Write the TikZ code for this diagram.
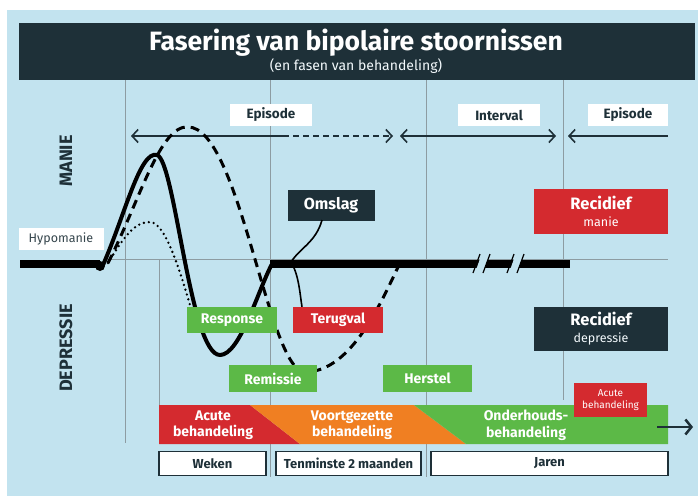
\documentclass[tikz,border=0pt]{standalone}
\usepackage{fontspec}
\setmainfont{Fira Sans}
\usetikzlibrary{arrows.meta}
\definecolor{bgblue}{HTML}{C2E3EF}
\definecolor{mdark}{HTML}{1E3038}
\definecolor{mred}{HTML}{D42A2F}
\definecolor{mgreen}{HTML}{5CB947}
\definecolor{morange}{HTML}{F07F22}
\definecolor{gridgrey}{HTML}{8D9CA2}
\tikzset{
  eplabel/.style={fill=white, text=mdark, font=\bfseries\fontsize{13.5}{14}\selectfont,
    minimum width=82pt, minimum height=22pt, inner sep=0pt},
  greenlabel/.style={fill=mgreen, text=white, font=\bfseries\fontsize{14}{15}\selectfont,
    minimum width=90pt, minimum height=26pt, inner sep=0pt},
  redlabel/.style={greenlabel, fill=mred},
  darklabel/.style={fill=mdark, text=white, inner sep=0pt, align=center},
  duration/.style={draw=mdark, line width=1.8pt, fill=white, text=mdark,
    font=\bfseries\fontsize{13}{14}\selectfont, minimum height=24pt, inner sep=0pt},
  barfont/.style={text=white, font=\bfseries\fontsize{14}{16.5}\selectfont, align=center},
  span/.style={mdark, line width=1.6pt, -{Straight Barb[length=6pt,width=13pt]}},
  grid/.style={gridgrey, line width=0.8pt}
}
\begin{document}
\begin{tikzpicture}[x=1pt, y=-1pt]
        \useasboundingbox (0,0) rectangle (698,496);
        % background and title bar
        \fill[white] (0,0) rectangle (698,496);
        \fill[bgblue] (7,10) rectangle (698,496);
        \fill[mdark] (19,23) rectangle (695,80);
        \node[text=white, font=\bfseries\fontsize{26.5}{28}\selectfont] (title) at (356,43) {Fasering van bipolaire stoornissen};
        \node[text=white!80!bgblue, font=\fontsize{14}{15}\selectfont] (subtitle) at (356,66) {(en fasen van behandeling)};

        % the vertical grid lines and the zero line
        \draw[grid] (125,80) -- (125,443);
        \draw[grid] (270,80) -- (270,477);
        \draw[grid] (426,80) -- (426,477);
        \draw[grid] (563,80) -- (563,400);
        \draw[grid] (159,259) -- (159,405);
        \draw[grid] (105,259) -- (668,259);

        % axis labels
        \node[rotate=90, text=mdark, font=\bfseries\fontsize{18}{20}\selectfont] (manie) at (66,161) {MANIE};
        \node[rotate=90, text=mdark, font=\bfseries\fontsize{18}{20}\selectfont] (depressie) at (66,348) {DEPRESSIE};

        % the episode / interval labels and spans
        \node[eplabel] (episode-a) at (271,115) {Episode};
        \node[eplabel] (interval) at (499,115) {Interval};
        \node[eplabel, minimum width=80pt] (episode-b) at (628,115) {Episode};
        \coordinate (span-a) at (131,136);
        \coordinate (span-b) at (283,136);
        \coordinate (span-c) at (393,136);
        \coordinate (span-d) at (400,136);
        \coordinate (span-e) at (556,136);
        \coordinate (span-f) at (568,136);
        \coordinate (span-g) at (668,136);
        \draw[span] (span-b) -- (span-a);
        \draw[span, dash pattern=on 6pt off 4pt] (span-b) -- (span-c);
        \draw[span, {Straight Barb[length=6pt,width=13pt]}-{Straight Barb[length=6pt,width=13pt]}] (span-d) -- (span-e);
        \draw[span] (span-g) -- (span-f);

        % the course lines
        \draw[black, line width=8pt] (20,264) -- (100,264);
        \fill[black] (100,266) circle (5pt);
        \draw[black, line width=3pt, dash pattern=on 9pt off 6pt]
            (108,263) .. controls (140,200) and (160,125) .. (188,127)
            .. controls (240,127) and (268,372) .. (305,372)
            .. controls (352,372) and (382,300) .. (400,263);
        \draw[black, line width=2.6pt, dash pattern=on 0pt off 5pt, line cap=round]
            (108,263) .. controls (125,235) and (135,222) .. (150,222)
            .. controls (165,222) and (180,270) .. (192,312);
        \draw[black, line width=4pt]
            (103,265) .. controls (125,215) and (140,150) .. (157,155)
            .. controls (175,160) and (190,355) .. (220,355)
            .. controls (240,355) and (258,290) .. (272,264);
        \draw[black, line width=8pt] (270,264) -- (570,264);
        % the breaks in the line
        \fill[bgblue] (476,270) -- (484,270) -- (489,256) -- (481,256) -- cycle;
        \fill[bgblue] (510,270) -- (518,270) -- (523,256) -- (515,256) -- cycle;
        \draw[black, line width=1.2pt] (473,273) -- (480,254) (483,273) -- (490,254)
            (507,273) -- (514,254) (517,273) -- (524,254);

        % hypomanie
        \node[fill=white, text=mdark!90, font=\fontsize{12.5}{13}\selectfont,
            minimum width=85pt, minimum height=22pt, inner sep=0pt] (hypomanie) at (61,239) {Hypomanie};

        % omslag and terugval
        \node[darklabel, font=\bfseries\fontsize{16}{18}\selectfont,
            minimum width=87pt, minimum height=31pt] (omslag) at (331,205) {Omslag};
        \coordinate (omslag-foot) at (322,220);
        \coordinate (flip) at (291,262);
        \node[redlabel] (terugval) at (338,320) {Terugval};
        \draw[black, line width=1.6pt] (omslag-foot) .. controls (316,242) and (300,248) .. (flip);
        \draw[black, line width=1.6pt] (flip) .. controls (299,275) and (300,295) .. (terugval.north -| 302,0);

        % the green stages
        \node[greenlabel] (response) at (232,320) {Response};
        \node[greenlabel, minimum width=88pt, minimum height=27pt] (remissie) at (273,378.5) {Remissie};
        \node[greenlabel, minimum width=89pt, minimum height=27pt] (herstel) at (427.5,378.5) {Herstel};

        % recidief boxes
        \node[darklabel, fill=mred, font=\fontsize{12.5}{17}\selectfont,
            minimum width=134pt, minimum height=45pt] (recidief-manie) at (601,211.5)
            {{\bfseries\fontsize{16.5}{17}\selectfont Recidief}\\manie};
        \node[darklabel, font=\fontsize{12.5}{17}\selectfont,
            minimum width=134pt, minimum height=44pt] (recidief-depressie) at (601,329)
            {{\bfseries\fontsize{16.5}{17}\selectfont Recidief}\\{\color{white!80!bgblue}depressie}};

        % the treatment bar
        \fill[mred] (159,405) -- (250,405) -- (300,444) -- (159,444) -- cycle;
        \fill[morange] (250,405) -- (414,405) -- (466,444) -- (300,444) -- cycle;
        \fill[mgreen] (414,405) -- (668,405) -- (668,444) -- (466,444) -- cycle;
        \node[barfont] (acute) at (213,425) {Acute\\behandeling};
        \node[barfont] (voortgezet) at (352,425) {Voortgezette\\behandeling};
        \node[barfont] (onderhoud) at (526,425) {Onderhouds-\\behandeling};
        \node[fill=mred, text=white, font=\fontsize{10}{12.5}\selectfont, align=center,
            minimum width=73pt, minimum height=34pt, inner sep=0pt] (acute-small) at (610.5,400) {Acute\\behandeling};
        \coordinate (bar-end) at (657,427);
        \coordinate (bar-arrow) at (693,427);
        \draw[mdark, line width=2.5pt, -{Straight Barb[length=6pt,width=15pt]}] (bar-end) -- (bar-arrow);

        % durations
        \node[duration, minimum width=107pt] (weken) at (212.5,463.5) {Weken};
        \node[duration, minimum width=145pt] (tenminste) at (348.5,463.5) {Tenminste 2 maanden};
        \node[duration, minimum width=237pt] (jaren) at (549.5,463.5) {Jaren};
\end{tikzpicture}
\end{document}
